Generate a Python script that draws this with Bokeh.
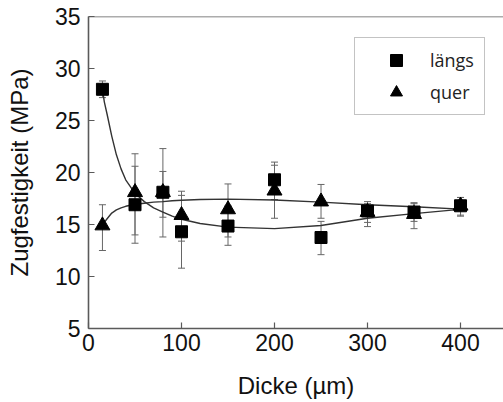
from bokeh.plotting import figure
from bokeh.models import (Range1d, FixedTicker, Whisker, TeeHead, Span,
                          ColumnDataSource, Legend, LegendItem)
from bokeh.embed import file_html
from bokeh.resources import INLINE

# ---- data ----
thickness = [15, 50, 80, 100, 150, 200, 250, 300, 350, 400]

laengs = [28.0, 16.9, 18.1, 14.3, 14.85, 19.3, 13.75, 16.3, 16.2, 16.8]
laengs_lo = [27.2, 13.2, 13.8, 10.8, 13.0, 17.4, 12.1, 15.2, 15.3, 15.9]
laengs_hi = [28.8, 21.8, 22.3, 17.8, 16.8, 21.0, 15.3, 17.2, 17.1, 17.6]

quer = [14.9, 18.1, 18.1, 15.9, 16.45, 18.25, 17.2, 16.2, 16.0, 16.8]
quer_lo = [12.5, 14.0, 15.7, 13.4, 13.8, 15.6, 15.6, 14.8, 14.6, 15.8]
quer_hi = [16.9, 20.6, 20.1, 18.2, 18.9, 20.7, 18.85, 17.0, 17.0, 17.6]

fit_x = [15, 17, 20, 25, 30, 35, 40, 50, 60, 70, 80, 90, 100, 120, 150,
         200, 250, 300, 350, 405]
fit_laengs = [28.0, 26.8, 25.6, 23.5, 21.7, 20.35, 19.3, 18.0, 17.2, 16.6,
              16.2, 15.8, 15.5, 15.1, 14.75, 14.6, 14.9, 15.6, 16.05, 16.5]
fit_quer = [14.9, 15.2, 15.55, 16.1, 16.4, 16.6, 16.75, 16.95, 17.05, 17.15,
            17.2, 17.28, 17.33, 17.4, 17.44, 17.36, 17.15, 16.9, 16.7, 16.45]

x_ticks = [0, 100, 200, 300, 400]
y_ticks = [5, 10, 15, 20, 25, 30, 35]

AXIS_COL = "#5a5a5a"
TXT_COL = "#111111"

p = figure(frame_width=415, frame_height=312, output_backend="svg",
           toolbar_location=None,
           x_range=Range1d(0, 446.2), y_range=Range1d(y_ticks[0], y_ticks[-1]),
           min_border_left=88, min_border_right=0, min_border_top=16,
           min_border_bottom=58,
           x_axis_label="Dicke (µm)", y_axis_label="Zugfestigkeit (MPa)")
p.outline_line_color = None
p.xgrid.visible = False
p.ygrid.visible = False
p.background_fill_color = "white"
p.border_fill_color = "white"

for ax in (p.xaxis[0], p.yaxis[0]):
    ax.axis_line_color = AXIS_COL
    ax.axis_line_width = 1.6
    ax.major_tick_line_color = AXIS_COL
    ax.major_tick_line_width = 1.2
    ax.minor_tick_line_color = None
    ax.major_tick_in = 6
    ax.major_tick_out = 0
    ax.major_label_text_font = "Liberation Sans"
    ax.major_label_text_font_size = "23px"
    ax.major_label_text_color = TXT_COL
    ax.axis_label_text_font = "Liberation Sans"
    ax.axis_label_text_font_size = "24px"
    ax.axis_label_text_font_style = "normal"
    ax.axis_label_text_color = TXT_COL

p.xaxis[0].ticker = FixedTicker(ticks=x_ticks)
p.yaxis[0].ticker = FixedTicker(ticks=y_ticks)
p.xaxis[0].major_label_standoff = 5
p.yaxis[0].major_label_standoff = 8
p.xaxis[0].axis_label_standoff = 18
p.yaxis[0].axis_label_standoff = 19

# top frame line
p.add_layout(Span(location=y_ticks[-1], dimension="width",
                  line_color=AXIS_COL, line_width=1.6))

src_l = ColumnDataSource(dict(x=thickness, y=laengs, lo=laengs_lo, hi=laengs_hi))
src_q = ColumnDataSource(dict(x=thickness, y=quer, lo=quer_lo, hi=quer_hi))
src_fit = ColumnDataSource(dict(x=fit_x, yl=fit_laengs, yq=fit_quer))

for src in (src_q, src_l):
    w = Whisker(source=src, base="x", lower="lo", upper="hi",
                line_color="#666666", line_width=1,
                lower_head=TeeHead(size=7, line_color="#666666", line_width=1),
                upper_head=TeeHead(size=7, line_color="#666666", line_width=1))
    p.add_layout(w)

p.line("x", "yl", source=src_fit, line_color="#333333", line_width=1.4)
p.line("x", "yq", source=src_fit, line_color="#333333", line_width=1.4)

r_q = p.scatter("x", "y", source=src_q, marker="triangle", size=15,
                fill_color="black", line_color="black")
r_l = p.scatter("x", "y", source=src_l, marker="square", size=12,
                fill_color="black", line_color="black")

legend = Legend(items=[LegendItem(label="längs", renderers=[r_l]),
                       LegendItem(label="quer", renderers=[r_q])],
                location=(266, 213), orientation="vertical",
                padding=7, spacing=2, margin=0,
                glyph_width=68, glyph_height=30, label_standoff=0,
                label_width=47, label_height=30,
                label_text_font="Open Sans", label_text_font_size="18px",
                label_text_color="#222222",
                border_line_color="#888888", border_line_width=1,
                background_fill_color="white", background_fill_alpha=1)
p.add_layout(legend)

open("out.html", "w").write(file_html(p, INLINE))
